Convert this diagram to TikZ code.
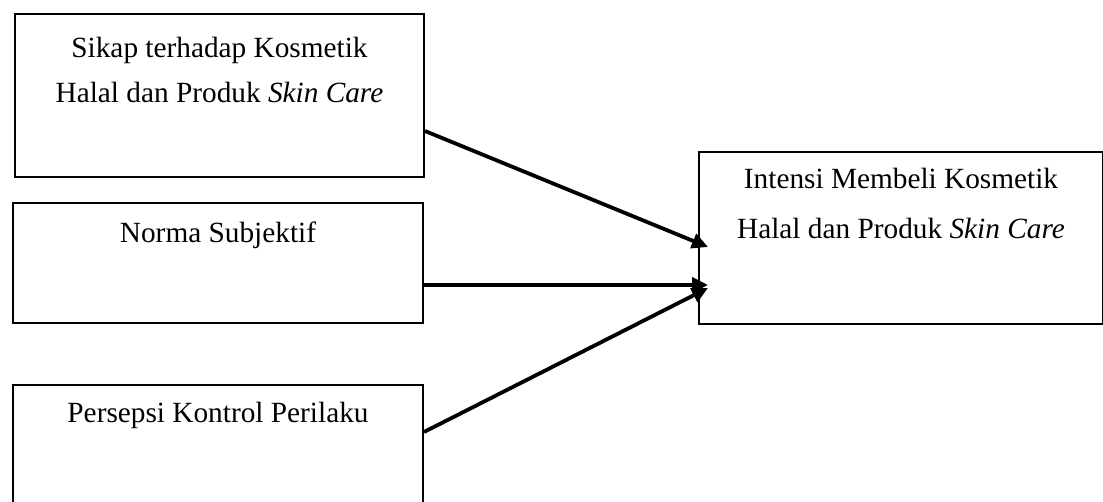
\documentclass[tikz,border=0pt]{standalone}
\usepackage{fontspec}
\setmainfont{Liberation Serif}
\usepackage{tikz}
\usetikzlibrary{arrows.meta,positioning}

\begin{document}
\begin{tikzpicture}[
          x=1pt,y=-1pt,
          >={Triangle[length=16pt,width=15pt]},
          varbox/.style={draw=black,line width=2pt,inner sep=0pt,anchor=north west},
          caption/.style={font=\fontsize{29.3}{45}\selectfont,align=center,anchor=base,inner sep=0pt},
          path/.style={->,line width=3.8pt,draw=black}
        ]
        \useasboundingbox (0,0) rectangle (1103,501);
        % predictor boxes
        \node[varbox,minimum width=409pt,minimum height=163pt] (sikap) at (14,13) {};
        \node[varbox,minimum width=410pt,minimum height=120pt] (norma) at (12,202) {};
        \node[varbox,minimum width=410pt,minimum height=140pt] (kontrol) at (12,384) {};
        % outcome box
        \node[varbox,minimum width=404pt,minimum height=172pt] (intensi) at (698,151) {};

        % base anchor sits on the last line
        \node[caption] (sikaptext) at ([yshift=-89pt]sikap.north)
          {Sikap terhadap Kosmetik\\Halal dan Produk \textit{Skin Care}};
        \node[caption] (normatext) at ([yshift=-40pt]norma.north) {Norma Subjektif};
        \node[caption] (kontroltext) at ([yshift=-38pt]kontrol.north) {Persepsi Kontrol Perilaku};
        \node[caption,font=\fontsize{29.3}{50}\selectfont] (intensitext) at ([yshift=-87pt]intensi.north)
          {Intensi Membeli Kosmetik\\Halal dan Produk \textit{Skin Care}};

        \draw[path] ([yshift=-118pt]sikap.north east) -- ([xshift=10pt,yshift=-96pt]intensi.north west);
        \draw[path] ([yshift=-83pt]norma.north east) -- ([xshift=10pt,yshift=-134pt]intensi.north west);
        \draw[path] ([yshift=-48pt]kontrol.north east) -- ([xshift=10pt,yshift=-137pt]intensi.north west);
      \end{tikzpicture}
\end{document}
